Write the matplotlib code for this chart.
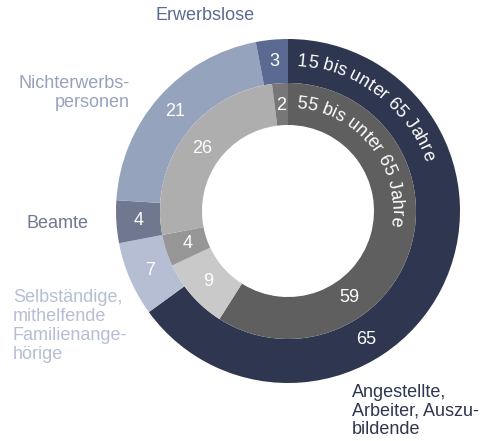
import numpy as np
import matplotlib
matplotlib.use('Agg')
import matplotlib.pyplot as plt
from matplotlib import font_manager

plt.rcParams['font.family'] = ['Liberation Sans', 'DejaVu Sans']

# data (percent), clockwise from 12 o'clock
groups = ['Angestellte,\nArbeiter, Auszu-\nbildende',
          'Selbständige,\nmithelfende\nFamilienange-\nhörige',
          'Beamte',
          'Nichterwerbs-\npersonen',
          'Erwerbslose']
share_15_65 = [65, 7, 4, 21, 3]
share_55_65 = [59, 9, 4, 26, 2]
outer_title = '15 bis unter 65 Jahre'
inner_title = '55 bis unter 65 Jahre'

outer_colors = ['#2e3650', '#b5bed3', '#6f788e', '#96a3bd', '#5b6a93']
inner_colors = ['#5f5f5f', '#c9c9c9', '#969696', '#aeaeae', '#777777']
label_colors = ['#2e3650', '#b5bed3', '#6f788e', '#96a3bd', '#5b6a93']

# where in each segment the value sits (0 = start, 1 = end, clockwise)
outer_frac = [0.635, 0.5, 0.5, 0.5, 0.5]
inner_frac = [0.68, 0.5, 0.5, 0.5, 0.5]

W, H = 483, 441
cx, cy = 288, H - 211
R_OUT, W_OUT = 172, 44
R_IN, W_IN = 128, 42

# group label anchors (image px) and alignment
label_pos = [(352, 411, 'left'), (13, 326, 'left'), (27, 223, 'left'),
             (130, 93, 'right'), (205, 16, 'center')]


def arc_text(ax, text, r, start_deg, size, color):
    fp = font_manager.FontProperties(family='Liberation Sans', size=size)
    font = font_manager.get_font(font_manager.findfont(fp))
    font.set_size(size, 72)
    adv = [font.load_char(ord(c)).linearHoriAdvance / 65536 * 100 / 72 for c in text]
    s = 0.0
    for c, a in zip(text, adv):
        th = np.deg2rad(start_deg) - (s + a / 2) / r
        ax.text(cx + r*np.cos(th), cy + r*np.sin(th), c, rotation=np.rad2deg(th) - 90,
                rotation_mode='anchor', ha='center', va='baseline',
                fontsize=size, color=color)
        s += a


def value_labels(ax, wedges, values, fracs, r):
    for w, v, f in zip(wedges, values, fracs):
        ang = np.deg2rad(w.theta2 - f*(w.theta2 - w.theta1))
        ax.text(cx + r*np.cos(ang), cy + r*np.sin(ang), str(v), ha='center', va='center',
                fontsize=13, color='white')


fig = plt.figure(figsize=(W/100, H/100), dpi=100)
ax = fig.add_axes([0, 0, 1, 1])

w_out, _ = ax.pie(share_15_65, radius=R_OUT, center=(cx, cy), startangle=90, counterclock=False,
                  colors=outer_colors, wedgeprops=dict(width=W_OUT, linewidth=0))
w_in, _ = ax.pie(share_55_65, radius=R_IN, center=(cx, cy), startangle=90, counterclock=False,
                 colors=inner_colors, wedgeprops=dict(width=W_IN, linewidth=0))

ax.set_xlim(0, W)
ax.set_ylim(0, H)
ax.set_aspect('equal')
ax.axis('off')

value_labels(ax, w_out, share_15_65, outer_frac, R_OUT - W_OUT/2)
value_labels(ax, w_in, share_55_65, inner_frac, R_IN - W_IN/2 - 1)

arc_text(ax, outer_title, 145.5, 86.5, 13, 'white')
arc_text(ax, inner_title, 103.5, 85.5, 13, 'white')

for name, (x, y, ha), col in zip(groups, label_pos, label_colors):
    ax.text(x, H - y, name, ha=ha, va='center', fontsize=13, color=col, linespacing=1.13)

fig.savefig('out.png', dpi=100)
